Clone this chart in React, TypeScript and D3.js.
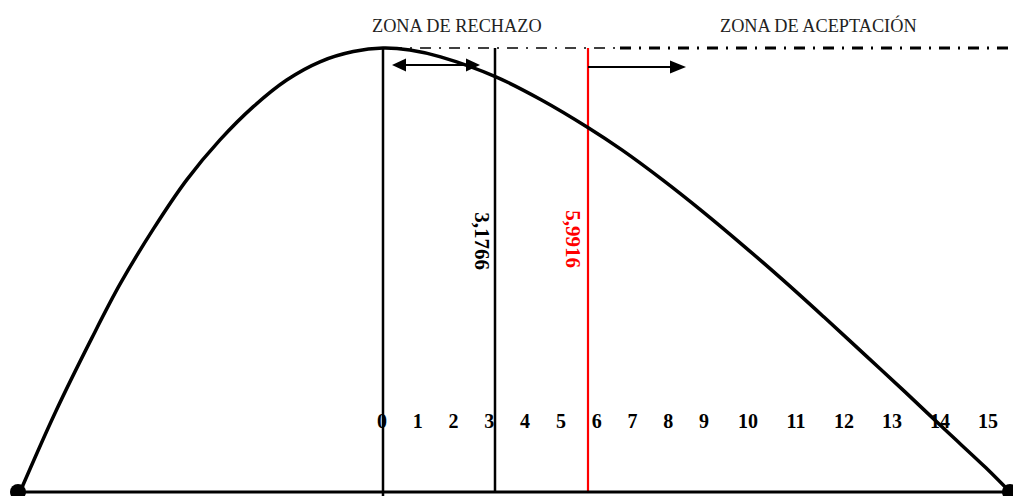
import React from "react";
import * as d3 from "d3";

// ---- data ----
// schematic density curve (x in % of baseline width, y relative height)
const curveX = [0, 3.54, 7.24, 10.1, 13.46, 16.84, 20.2, 23.57, 26.94, 30.3, 33.67, 36.67, 39.39, 42.48, 48.07, 52.68, 57.36, 60.83, 64.91, 68.99, 73.06, 77.14, 81.21, 85.3, 89.37, 93.45, 97.54, 100];
const curveY = [0, 0.178, 0.346, 0.468, 0.592, 0.703, 0.793, 0.868, 0.928, 0.969, 0.992, 1, 0.9955, 0.98, 0.935, 0.883, 0.821, 0.77, 0.703, 0.631, 0.555, 0.476, 0.394, 0.31, 0.226, 0.14, 0.055, 0];
const tickLabels = ["0", "1", "2", "3", "4", "5", "6", "7", "8", "9", "10", "11", "12", "13", "14", "15"];
const tickValues = tickLabels.map(Number);
const criticalValues = [0, 3.1766, 5.9916];
const criticalLabels = ["", "3,1766", "5,9916"];
const criticalColors = ["#000", "#000", "#ff0000"];
const zoneLabels = ["ZONA DE RECHAZO", "ZONA DE ACEPTACIÓN"];

const W = 1013;
const H = 496;
const SERIF = "'Liberation Serif', 'Times New Roman', serif";

export default function App() {
  const x = d3.scaleLinear().domain([0, 100]).range([20, 1010]);
  const y = d3.scaleLinear().domain([0, 1]).range([492, 48]);
  const tickX = d3.scaleLinear().domain([0, 9, 10, 15]).range([382, 704, 748, 988]);
  const critX = d3.scaleLinear().domain(criticalValues).range([383, 495, 588]);

  const pts: [number, number][] = curveX.map((v, i) => [v, curveY[i]]);
  const line = d3
    .line<[number, number]>()
    .x((d) => x(d[0]))
    .y((d) => y(d[1]))
    .curve(d3.curveCatmullRom.alpha(0.5));

  const baseY = y(0);
  const topY = y(1);
  const peakX = x(curveX[curveY.indexOf(1)]);

  const c0 = critX(criticalValues[0]);
  const c1 = critX(criticalValues[1]);
  const c2 = critX(criticalValues[2]);

  const arrowY1 = 65;
  const arrowY2 = 67;
  const hl = 14;
  const hh = 6.5;

  return (
    <svg
      width={W}
      height={H}
      style={{ position: "absolute", left: 0, top: 0, display: "block", background: "#fff" }}
    >
      {/* zone labels */}
      <text x={372} y={32} fontFamily={SERIF} fontSize={18.3} fill="#222">
        {zoneLabels[0]}
      </text>
      <text x={720} y={32} fontFamily={SERIF} fontSize={18.3} fill="#222">
        {zoneLabels[1]}
      </text>

      {/* dash-dot top line */}
      <line x1={peakX} x2={620} y1={topY} y2={topY} stroke="#000" strokeWidth={1.5} strokeDasharray="11 8 2 8" strokeDashoffset={-8} />
      <line x1={620} x2={W} y1={topY} y2={topY} stroke="#000" strokeWidth={3} strokeDasharray="11 8 2 8" />

      {/* vertical critical lines */}
      <line x1={c0} x2={c0} y1={topY} y2={H} stroke={criticalColors[0]} strokeWidth={2.5} />
      <line x1={c1} x2={c1} y1={topY} y2={baseY} stroke={criticalColors[1]} strokeWidth={2.5} />
      <line x1={c2} x2={c2} y1={topY} y2={baseY} stroke={criticalColors[2]} strokeWidth={2.2} />

      {/* rotated critical labels */}
      <text
        transform={`translate(${c1 - 20},241) rotate(90)`}
        textAnchor="middle"
        fontFamily={SERIF}
        fontSize={21}
        fontWeight="bold"
        fill={criticalColors[1]}
      >
        {criticalLabels[1]}
      </text>
      <text
        transform={`translate(${c2 - 22},239) rotate(90)`}
        textAnchor="middle"
        fontFamily={SERIF}
        fontSize={21}
        fontWeight="bold"
        fill={criticalColors[2]}
      >
        {criticalLabels[2]}
      </text>

      {/* double arrow (rejection zone) */}
      <line x1={c0 + 9 + hl - 2} x2={c1 - 15 - hl + 2} y1={arrowY1} y2={arrowY1} stroke="#000" strokeWidth={2} />
      <polygon
        points={`${c0 + 9},${arrowY1} ${c0 + 9 + hl},${arrowY1 - hh} ${c0 + 9 + hl},${arrowY1 + hh}`}
        fill="#000"
      />
      <polygon
        points={`${c1 - 15},${arrowY1} ${c1 - 15 - hl},${arrowY1 - hh} ${c1 - 15 - hl},${arrowY1 + hh}`}
        fill="#000"
      />

      {/* right arrow (acceptance zone) */}
      <line x1={c2} x2={c2 + 84} y1={arrowY2} y2={arrowY2} stroke="#000" strokeWidth={2} />
      <polygon
        points={`${c2 + 98},${arrowY2} ${c2 + 98 - 16},${arrowY2 - hh} ${c2 + 98 - 16},${arrowY2 + hh}`}
        fill="#000"
      />

      {/* tick labels */}
      {tickValues.map((v, i) => (
        <text
          key={v}
          x={tickX(v)}
          y={428}
          textAnchor="middle"
          fontFamily={SERIF}
          fontSize={20}
          fontWeight="bold"
          fill="#000"
        >
          {tickLabels[i]}
        </text>
      ))}

      {/* baseline */}
      <line x1={x(0)} x2={W} y1={baseY} y2={baseY} stroke="#000" strokeWidth={3} />

      {/* curve */}
      <path d={line(pts) || ""} fill="none" stroke="#000" strokeWidth={3.5} strokeLinejoin="round" />

      {/* end dots */}
      <circle cx={x(0) - 2} cy={baseY} r={8} fill="#000" />
      <circle cx={x(100)} cy={baseY} r={8} fill="#000" />
    </svg>
  );
}
